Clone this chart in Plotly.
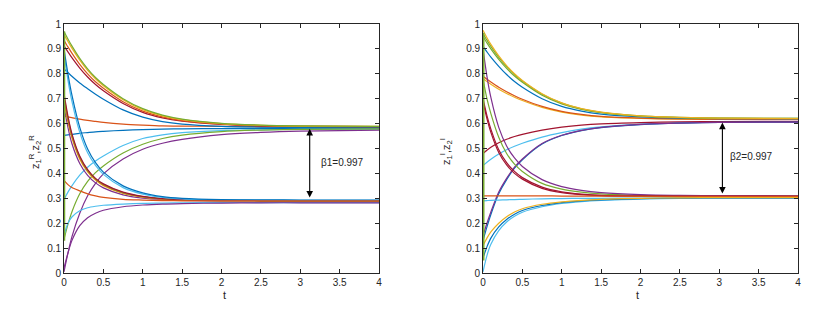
import plotly.graph_objects as go

T = [0, 0.05, 0.1, 0.2, 0.3, 0.4, 0.5, 0.75, 1.0, 1.25, 1.5, 2.0, 2.5, 3.0, 4.0]

# ---------------- left panel: z1^R, z2^R ----------------
L_green_top   = [0.970, 0.940, 0.912, 0.862, 0.820, 0.785, 0.757, 0.700, 0.660, 0.634, 0.618, 0.601, 0.594, 0.591, 0.589]
L_yellow_top  = [0.958, 0.930, 0.903, 0.855, 0.814, 0.780, 0.752, 0.696, 0.656, 0.631, 0.616, 0.600, 0.593, 0.590, 0.589]
L_orange_top  = [0.935, 0.908, 0.883, 0.838, 0.800, 0.768, 0.742, 0.688, 0.650, 0.627, 0.612, 0.598, 0.592, 0.589, 0.588]
L_dred_top    = [0.912, 0.888, 0.865, 0.823, 0.787, 0.757, 0.732, 0.681, 0.645, 0.623, 0.610, 0.597, 0.591, 0.589, 0.588]
L_blue_top    = [0.820, 0.805, 0.790, 0.763, 0.740, 0.718, 0.698, 0.655, 0.626, 0.608, 0.598, 0.589, 0.586, 0.584, 0.584]
L_orange_mid  = [0.630, 0.627, 0.624, 0.618, 0.613, 0.609, 0.605, 0.598, 0.594, 0.591, 0.590, 0.589, 0.588, 0.588, 0.588]
L_blue_mid    = [0.553, 0.555, 0.557, 0.561, 0.564, 0.567, 0.569, 0.573, 0.576, 0.578, 0.579, 0.580, 0.581, 0.581, 0.581]
L_lblue_rise  = [0.295, 0.325, 0.350, 0.393, 0.425, 0.450, 0.470, 0.512, 0.540, 0.555, 0.564, 0.572, 0.575, 0.577, 0.578]
L_green_rise  = [0.135, 0.195, 0.245, 0.318, 0.368, 0.403, 0.430, 0.482, 0.517, 0.540, 0.554, 0.568, 0.574, 0.577, 0.579]
L_purple_rise = [0.005, 0.080, 0.145, 0.240, 0.310, 0.360, 0.398, 0.458, 0.497, 0.521, 0.537, 0.556, 0.565, 0.570, 0.574]
L_blue_low    = [0.900, 0.800, 0.715, 0.585, 0.498, 0.443, 0.405, 0.350, 0.322, 0.307, 0.300, 0.295, 0.294, 0.293, 0.293]
L_lblue_low   = [0.880, 0.775, 0.690, 0.565, 0.483, 0.432, 0.396, 0.343, 0.317, 0.304, 0.298, 0.294, 0.293, 0.292, 0.292]
L_dred_low    = [0.720, 0.630, 0.560, 0.470, 0.415, 0.380, 0.358, 0.325, 0.308, 0.299, 0.295, 0.292, 0.291, 0.291, 0.291]
L_green_low   = [0.710, 0.622, 0.555, 0.466, 0.412, 0.378, 0.356, 0.323, 0.307, 0.299, 0.294, 0.291, 0.290, 0.290, 0.290]
L_orange_low  = [0.700, 0.615, 0.550, 0.462, 0.410, 0.376, 0.354, 0.322, 0.306, 0.298, 0.294, 0.291, 0.290, 0.290, 0.290]
L_yellow_low  = [0.690, 0.608, 0.543, 0.457, 0.406, 0.373, 0.351, 0.320, 0.305, 0.297, 0.293, 0.291, 0.290, 0.290, 0.290]
L_purple_low  = [0.670, 0.585, 0.520, 0.440, 0.392, 0.362, 0.342, 0.314, 0.301, 0.295, 0.292, 0.290, 0.289, 0.289, 0.289]
L_orange_flat = [0.372, 0.355, 0.343, 0.330, 0.318, 0.310, 0.304, 0.296, 0.293, 0.291, 0.290, 0.290, 0.290, 0.290, 0.290]
L_lblue_rlow  = [0.150, 0.200, 0.225, 0.250, 0.262, 0.268, 0.272, 0.277, 0.280, 0.281, 0.282, 0.283, 0.283, 0.283, 0.283]
L_purple_rlow = [0.020, 0.080, 0.130, 0.190, 0.222, 0.240, 0.252, 0.266, 0.273, 0.277, 0.279, 0.281, 0.282, 0.282, 0.282]
L_vert        = [0.13, 0.97]   # vertical jump at t = 0

# ---------------- right panel: z1^I, z2^I ----------------
R_yellow_top  = [0.975, 0.945, 0.918, 0.872, 0.833, 0.800, 0.773, 0.720, 0.683, 0.660, 0.646, 0.631, 0.625, 0.622, 0.620]
R_green_top   = [0.962, 0.935, 0.910, 0.866, 0.829, 0.797, 0.771, 0.718, 0.682, 0.659, 0.645, 0.631, 0.625, 0.622, 0.621]
R_green2_top  = [0.950, 0.924, 0.900, 0.858, 0.822, 0.791, 0.766, 0.714, 0.679, 0.657, 0.644, 0.630, 0.624, 0.622, 0.621]
R_blue_top    = [0.910, 0.888, 0.867, 0.830, 0.797, 0.769, 0.746, 0.700, 0.669, 0.650, 0.638, 0.627, 0.622, 0.620, 0.619]
R_orange_top  = [0.790, 0.778, 0.767, 0.746, 0.728, 0.712, 0.698, 0.669, 0.649, 0.637, 0.629, 0.622, 0.619, 0.618, 0.618]
R_yellow_mid  = [0.780, 0.769, 0.758, 0.738, 0.721, 0.706, 0.693, 0.665, 0.646, 0.634, 0.627, 0.621, 0.618, 0.617, 0.617]
R_dred_rise   = [0.480, 0.493, 0.505, 0.523, 0.537, 0.548, 0.557, 0.574, 0.586, 0.594, 0.599, 0.604, 0.607, 0.608, 0.609]
R_lblue_rise  = [0.432, 0.445, 0.457, 0.478, 0.495, 0.509, 0.521, 0.546, 0.564, 0.578, 0.587, 0.598, 0.603, 0.606, 0.608]
R_purple_rise = [0.150, 0.200, 0.245, 0.325, 0.380, 0.425, 0.458, 0.520, 0.553, 0.573, 0.585, 0.597, 0.602, 0.605, 0.606]
R_blue_rise   = [0.130, 0.185, 0.235, 0.318, 0.375, 0.421, 0.455, 0.518, 0.552, 0.572, 0.584, 0.596, 0.602, 0.605, 0.606]
R_purple_dec  = [0.900, 0.790, 0.705, 0.585, 0.510, 0.462, 0.428, 0.375, 0.347, 0.332, 0.323, 0.315, 0.312, 0.311, 0.310]
R_green_dec   = [0.780, 0.700, 0.640, 0.545, 0.480, 0.437, 0.408, 0.360, 0.337, 0.325, 0.318, 0.312, 0.310, 0.309, 0.309]
R_dred_dec    = [0.700, 0.632, 0.578, 0.495, 0.443, 0.408, 0.383, 0.345, 0.326, 0.317, 0.312, 0.309, 0.308, 0.308, 0.308]
R_dred_dec2   = [0.690, 0.620, 0.565, 0.484, 0.434, 0.400, 0.377, 0.340, 0.323, 0.315, 0.311, 0.309, 0.308, 0.308, 0.308]
R_orange_flat = [0.310, 0.310, 0.310, 0.310, 0.310, 0.310, 0.310, 0.310, 0.309, 0.309, 0.309, 0.308, 0.308, 0.308, 0.308]
R_lblue_flat  = [0.290, 0.291, 0.292, 0.293, 0.294, 0.295, 0.296, 0.298, 0.299, 0.300, 0.300, 0.301, 0.301, 0.301, 0.301]
R_yellow_rise = [0.110, 0.140, 0.165, 0.200, 0.226, 0.245, 0.258, 0.276, 0.286, 0.292, 0.296, 0.300, 0.302, 0.303, 0.303]
R_blue_rlow   = [0.060, 0.105, 0.140, 0.185, 0.215, 0.236, 0.251, 0.271, 0.283, 0.290, 0.294, 0.299, 0.301, 0.302, 0.302]
R_lblue_rlow  = [0.005, 0.070, 0.115, 0.170, 0.205, 0.228, 0.244, 0.266, 0.279, 0.287, 0.292, 0.297, 0.300, 0.301, 0.301]
R_vert        = [0.05, 0.965]

BLUE, ORANGE, YELLOW, PURPLE = "#0072BD", "#D95319", "#EDB120", "#7E2F8E"
GREEN, LBLUE, DRED = "#77AC30", "#4DBEEE", "#A2142F"

left_curves = [
    (L_blue_mid, BLUE), (L_orange_mid, ORANGE), (L_blue_top, BLUE),
    (L_dred_top, DRED), (L_orange_top, ORANGE), (L_yellow_top, YELLOW), (L_green_top, GREEN),
    (L_lblue_rise, LBLUE), (L_purple_rise, PURPLE), (L_green_rise, GREEN),
    (L_purple_low, PURPLE), (L_yellow_low, YELLOW), (L_orange_low, ORANGE), (L_green_low, GREEN),
    (L_dred_low, DRED), (L_lblue_low, LBLUE), (L_blue_low, BLUE),
    (L_orange_flat, ORANGE), (L_lblue_rlow, LBLUE), (L_purple_rlow, PURPLE),
]
right_curves = [
    (R_yellow_mid, YELLOW), (R_orange_top, ORANGE), (R_blue_top, BLUE),
    (R_green2_top, GREEN), (R_green_top, GREEN), (R_yellow_top, YELLOW),
    (R_lblue_rise, LBLUE), (R_dred_rise, DRED), (R_blue_rise, BLUE), (R_purple_rise, PURPLE),
    (R_green_dec, GREEN), (R_purple_dec, PURPLE), (R_dred_dec2, DRED), (R_dred_dec, DRED),
    (R_lblue_flat, LBLUE), (R_orange_flat, ORANGE),
    (R_lblue_rlow, LBLUE), (R_blue_rlow, BLUE), (R_yellow_rise, YELLOW),
]

fig = go.Figure()
for vals, col in left_curves:
    fig.add_trace(go.Scatter(x=T, y=vals, mode="lines", xaxis="x", yaxis="y",
                             line=dict(color=col, width=1.2, shape="spline", smoothing=0.8),
                             showlegend=False, hoverinfo="skip"))
fig.add_trace(go.Scatter(x=[0, 0], y=L_vert, mode="lines", xaxis="x", yaxis="y",
                         line=dict(color=GREEN, width=2.5), showlegend=False))
for vals, col in right_curves:
    fig.add_trace(go.Scatter(x=T, y=vals, mode="lines", xaxis="x2", yaxis="y2",
                             line=dict(color=col, width=1.2, shape="spline", smoothing=0.8),
                             showlegend=False, hoverinfo="skip"))
fig.add_trace(go.Scatter(x=[0, 0], y=R_vert, mode="lines", xaxis="x2", yaxis="y2",
                         line=dict(color=GREEN, width=3), showlegend=False))

# the page body adds an 8 px offset; layout below is expressed in screen pixels
OFF = 8
W, H = 816, 313
ML = 64 - OFF
MT = 24 - OFF
MB = H - (273 - OFF)
MR = W - (798 - OFF)
PW, PH = W - ML - MR, H - MT - MB


def px(xs):   # screen pixel x -> paper x
    return (xs - OFF - ML) / PW


def py(ys):   # screen pixel y -> paper y
    return (H - MB - (ys - OFF)) / PH


ax_common = dict(showline=True, linecolor="#262626", linewidth=0.8, mirror="ticks",
                 ticks="inside", ticklen=4, tickcolor="#262626", tickwidth=0.8,
                 showgrid=False, zeroline=False, automargin=False,
                 tickfont=dict(family="Liberation Sans, Arial, sans-serif", size=10, color="#262626"))
fig.update_layout(
    width=W, height=H, margin=dict(l=ML, r=MR, t=MT, b=MB, autoexpand=False),
    paper_bgcolor="white", plot_bgcolor="white",
    xaxis=dict(domain=[px(64), px(379)], range=[0, 4], dtick=0.5, anchor="y", **ax_common),
    yaxis=dict(domain=[0, 1], range=[0, 1], dtick=0.1, anchor="x", **ax_common),
    xaxis2=dict(domain=[px(483), px(798)], range=[0, 4], dtick=0.5, anchor="y2", **ax_common),
    yaxis2=dict(domain=[0, 1], range=[0, 1], dtick=0.1, anchor="x2", **ax_common),
)

font_lab = dict(family="Liberation Sans, Arial, sans-serif", size=11, color="#262626")
ann = []
# axis titles
ann.append(dict(text="t", x=px(221), y=py(303), xref="paper", yref="paper", showarrow=False, font=font_lab))
ann.append(dict(text="t", x=px(641), y=py(303), xref="paper", yref="paper", showarrow=False, font=font_lab))
ann.append(dict(text="z<sub>1</sub><sup>R</sup>,z<sub>2</sub><sup>R</sup>", x=px(25), y=py(152),
                xref="paper", yref="paper", showarrow=False, textangle=-90, font=font_lab))
ann.append(dict(text="z<sub>1</sub><sup>I</sup>,z<sub>2</sub><sup>I</sup>", x=px(446), y=py(152),
                xref="paper", yref="paper", showarrow=False, textangle=-90, font=font_lab))
# double-headed arrows and labels
ann.append(dict(x=3.12, y=0.579, ax=3.12, ay=0.297, xref="x", yref="y", axref="x", ayref="y", text="",
                showarrow=True, arrowside="end+start", arrowhead=2, startarrowhead=2,
                arrowsize=1.2, startarrowsize=1.2, arrowwidth=1.1, arrowcolor="black"))
ann.append(dict(x=3.24, y=0.443, xref="x", yref="y", text="β1=0.997", showarrow=False, xanchor="left",
                font=dict(family="Liberation Sans, Arial, sans-serif", size=10, color="#262626")))
ann.append(dict(x=3.04, y=0.604, ax=3.04, ay=0.313, xref="x2", yref="y2", axref="x2", ayref="y2", text="",
                showarrow=True, arrowside="end+start", arrowhead=2, startarrowhead=2,
                arrowsize=1.2, startarrowsize=1.2, arrowwidth=1.1, arrowcolor="black"))
ann.append(dict(x=3.11, y=0.466, xref="x2", yref="y2", text="β2=0.997", showarrow=False, xanchor="left",
                font=dict(family="Liberation Sans, Arial, sans-serif", size=10, color="#262626")))
fig.update_layout(annotations=ann)

fig.write_html("out.html")
